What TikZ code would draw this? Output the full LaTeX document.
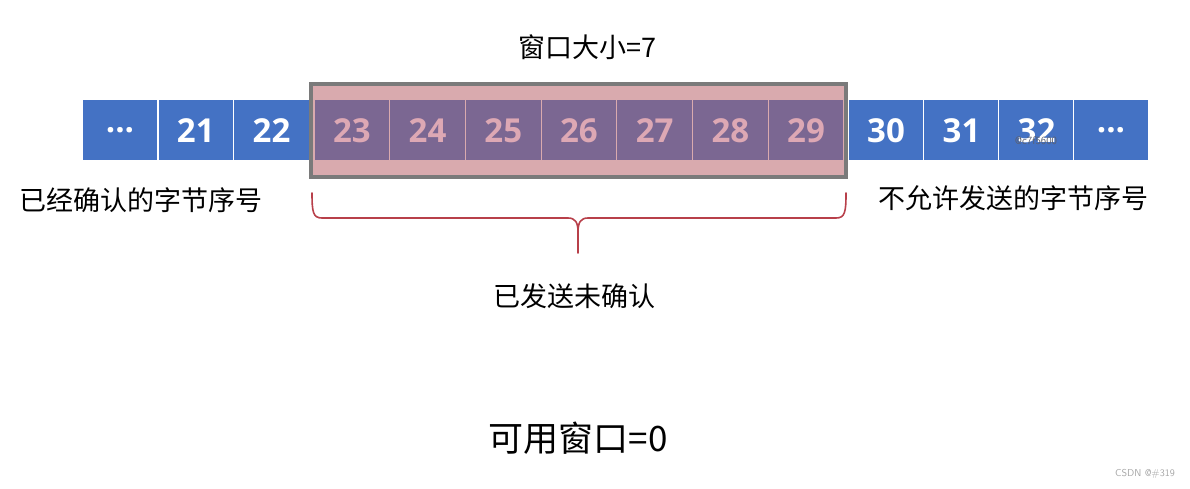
\documentclass[tikz,border=0pt]{standalone}
\usepackage{fontspec}
\newfontfamily\cjk{Noto Sans CJK SC}
\newfontfamily\numfont{Open Sans Bold}
\definecolor{cellblue}{HTML}{4472C4}
\definecolor{cellpurple}{HTML}{7B6792}
\definecolor{bandpink}{HTML}{D9AAAE}
\definecolor{numpink}{HTML}{DDA8B4}
\definecolor{framegrey}{HTML}{7A7A7A}
\definecolor{bracered}{HTML}{B8404A}
\definecolor{wmgrey}{HTML}{5A5F6E}
\begin{document}
\begin{tikzpicture}[x=1pt,y=-1pt,
  cellbase/.style={minimum height=61pt,inner sep=0pt,font=\numfont\fontsize{33}{33}\selectfont},
  bluecell/.style={cellbase,minimum width=75.6pt,fill=cellblue,draw=white,line width=1pt,text=white},
  purplecell/.style={cellbase,minimum width=75.7pt,fill=cellpurple,draw=bandpink,line width=1pt,text=numpink},
  label/.style={font=\cjk\fontsize{27}{27}\selectfont,text=black,inner sep=0pt},
  bigLabel/.style={font=\cjk\fontsize{35}{35}\selectfont,text=black,inner sep=0pt},
  brace/.style={draw=bracered,line width=1.6pt,line cap=round,line join=round}]
\useasboundingbox[fill=white] (0,0) rectangle (1190,489);
% left blue cells
\node[bluecell] (c0) at (120,130.5) {...};
\node[bluecell] (c21) at (195.8,130.5) {21};
\node[bluecell] (c22) at (271.5,130.5) {22};
% right blue cells
\node[bluecell] (c30) at (886,130.5) {30};
\node[bluecell] (c31) at (961.5,130.5) {31};
\node[bluecell] (c32) at (1036.5,130.5) {32};
\node[bluecell] (c99) at (1111,130.5) {...};
\node[font=\sffamily\fontsize{11}{11}\selectfont,text=wmgrey,inner sep=0pt] (wm) at (1036,141) {@c7f5600};
% window frame
\node[draw=framegrey,line width=4.5pt,fill=bandpink,minimum width=535pt,minimum height=93pt,inner sep=0pt] (win) at (578.5,130.5) {};
% purple cells
\foreach \n [count=\i from 0] in {23,...,29}{
  \node[purplecell] (c\n) at ({314+37.85+\i*75.7},130.5) {\n};
}
% labels
\node[label] (wsize) at (587,47) {窗口大小=7};
\node[label] (acked) at (141,200) {已经确认的字节序号};
\node[label] (notallowed) at (1013,198) {不允许发送的字节序号};
\node[label] (sent) at (574,296) {已发送未确认};
\node[bigLabel] (avail) at (578,438) {可用窗口=0};
\node[font=\sffamily\fontsize{10}{10}\selectfont,text=gray!70] (csdn) at (1145,474) {CSDN @\#319};
% brace
\coordinate (bl) at (312,193);
\coordinate (br) at (846,193);
\coordinate (bt) at (578,253);
\draw[brace] (bl) .. controls (312,212) and (313,218) .. (322,218) -- (568,218)
  .. controls (575,218) and (578,222) .. (578,232) -- (bt);
\draw[brace] (br) .. controls (846,212) and (845,218) .. (836,218) -- (588,218)
  .. controls (581,218) and (578,222) .. (578,232);
\end{tikzpicture}
\end{document}
